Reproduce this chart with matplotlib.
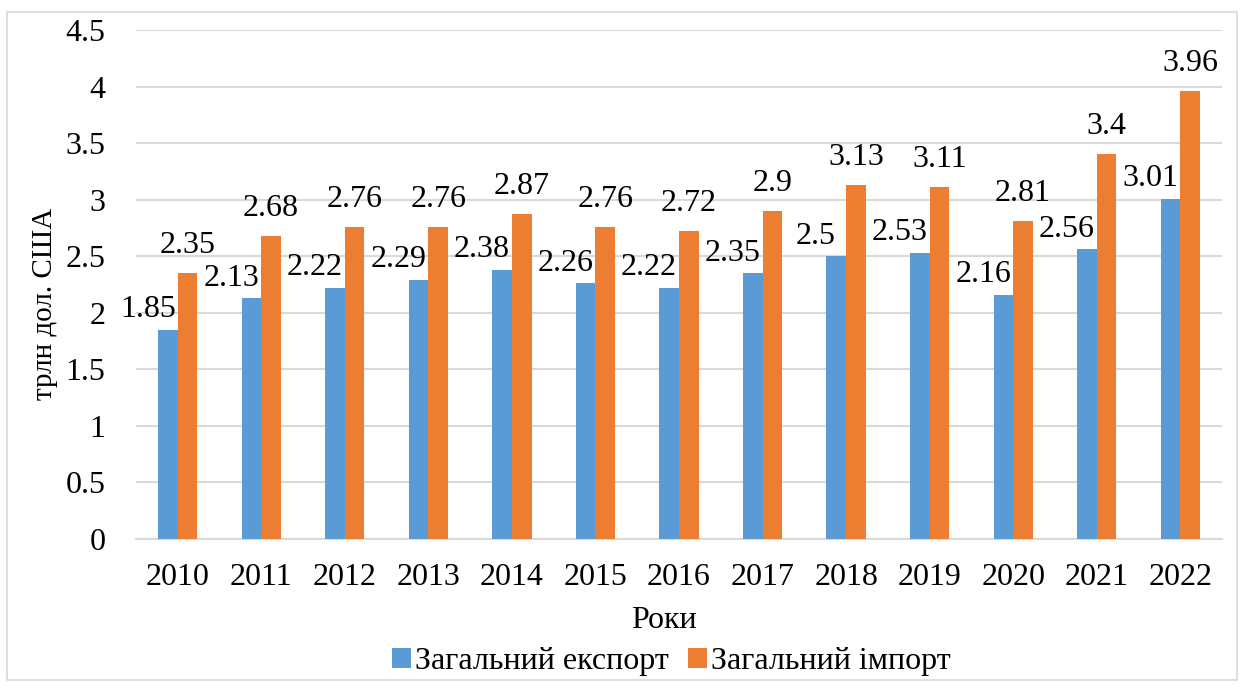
import numpy as np
from matplotlib import pyplot as plt
from matplotlib.patches import Rectangle

# Data
years = ['2010', '2011', '2012', '2013', '2014', '2015', '2016',
         '2017', '2018', '2019', '2020', '2021', '2022']
export_vals = [1.85, 2.13, 2.22, 2.29, 2.38, 2.26, 2.22, 2.35, 2.5, 2.53, 2.16, 2.56, 3.01]
import_vals = [2.35, 2.68, 2.76, 2.76, 2.87, 2.76, 2.72, 2.9, 3.13, 3.11, 2.81, 3.4, 3.96]
series_names = ['Загальний експорт', 'Загальний імпорт']
y_ticks = [0, 0.5, 1, 1.5, 2, 2.5, 3, 3.5, 4, 4.5]

# Style
blue = '#5B9BD5'
orange = '#ED7D31'
grid_colour = '#D9D9D9'
font_size = 23

plt.rcParams['font.family'] = ['Liberation Serif', 'DejaVu Serif']

fig = plt.figure(figsize=(12.45, 6.89), dpi=100)
ax = fig.add_axes([136 / 1245, 1 - 539 / 689, (1222 - 136) / 1245, (539 - 30) / 689])

x = np.arange(len(years))
width = 0.235
bars_exp = ax.bar(x - width / 2, export_vals, width, color=blue, label=series_names[0], zorder=3)
bars_imp = ax.bar(x + width / 2, import_vals, width, color=orange, label=series_names[1], zorder=3)

# data labels (export ones sit a bit to the left, like Excel placed them)
for b, v in zip(bars_exp, export_vals):
    ax.annotate(f'{v:g}', (b.get_x() + b.get_width() / 2, v), xytext=(-14.5, 9),
                textcoords='offset points', ha='center', va='baseline', fontsize=font_size)
for b, v in zip(bars_imp, import_vals):
    ax.annotate(f'{v:g}', (b.get_x() + b.get_width() / 2, v), xytext=(0, 14.5),
                textcoords='offset points', ha='center', va='baseline', fontsize=font_size)

ax.set_xlim(-0.5, len(years) - 0.5)
ax.set_ylim(0, 4.5)
ax.set_xticks(x)
ax.set_xticklabels(years, fontsize=font_size)
ax.set_yticks(y_ticks)
ax.set_yticklabels([f'{t:g}' for t in y_ticks], fontsize=font_size)
ax.tick_params(axis='both', length=0)
ax.tick_params(axis='y', pad=22)
ax.tick_params(axis='x', pad=17)

ax.yaxis.grid(True, color=grid_colour, linewidth=1.5, zorder=0)
for side in ['top', 'right', 'left']:
    ax.spines[side].set_visible(False)
ax.spines['bottom'].set_color(grid_colour)
ax.spines['bottom'].set_linewidth(1.5)

fig.text(45 / 1245, 1 - 304 / 689, 'трлн дол. США', rotation=90, ha='center', va='center',
         fontsize=21)
fig.text(664 / 1245, 1 - 621 / 689, 'Роки', ha='center', va='center', fontsize=font_size)

fig.legend(loc='center', bbox_to_anchor=(671 / 1245, 1 - 662 / 689), ncol=2, frameon=False,
           fontsize=font_size, handlelength=0.6, handleheight=0.6, handletextpad=0.12,
           columnspacing=0.6, borderpad=0)

fig.patches.append(Rectangle((7 / 1245, 1 - 680 / 689), 1230 / 1245, 668 / 689,
                             transform=fig.transFigure, fill=False, edgecolor='#D9D9D9',
                             linewidth=1.2))

fig.savefig('out.png', dpi=100)
